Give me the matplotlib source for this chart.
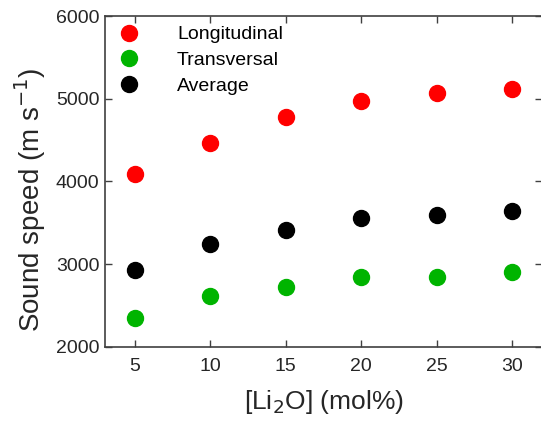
import matplotlib
matplotlib.use("Agg")
import matplotlib.pyplot as plt

# Li2O content (mol%)
li2o = [5, 10, 15, 20, 25, 30]

# sound speeds (m/s)
longitudinal = [4085, 4470, 4785, 4975, 5070, 5120]
transversal = [2345, 2620, 2720, 2850, 2840, 2910]
average = [2925, 3240, 3410, 3560, 3590, 3645]

series_names = ["Longitudinal", "Transversal", "Average"]
series_colors = ["#ff0000", "#00b400", "#000000"]

plt.rcParams["font.family"] = ["Liberation Sans", "DejaVu Sans"]

fig = plt.figure(figsize=(5.41, 4.23), dpi=100)
ax = fig.add_axes([0.194, 0.180, 0.808, 0.782])

for vals, name, col in zip([longitudinal, transversal, average], series_names, series_colors):
    ax.plot(li2o, vals, linestyle="none", marker="o", ms=11.5,
            color=col, markeredgecolor=col, label=name)

ax.set_xlim(3, 32)
ax.set_ylim(2000, 6000)
ax.set_xticks([5, 10, 15, 20, 25, 30])
ax.set_yticks([2000, 3000, 4000, 5000, 6000])

axis_grey = "#404040"
for sp in ax.spines.values():
    sp.set_color(axis_grey)
    sp.set_linewidth(1.2)
ax.tick_params(direction="in", length=5, width=1, colors=axis_grey,
               labelcolor="#262626", labelsize=14, top=True, right=True)
ax.tick_params(axis="x", pad=8)
ax.tick_params(axis="y", pad=4)

ax.set_xlabel("[Li$_2$O] (mol%)", fontsize=19, color="#262626")
ax.set_ylabel("Sound speed (m s$^{-1}$)", fontsize=20, color="#262626")
ax.xaxis.set_label_coords(0.5, -0.125)
ax.yaxis.set_label_coords(-0.131, 0.445)

ax.legend(loc="upper left", frameon=False, fontsize=14, handlelength=1.5,
          handletextpad=1.7, borderaxespad=0.2, borderpad=0.3, labelspacing=0.42)

fig.savefig("out.png", dpi=100)
